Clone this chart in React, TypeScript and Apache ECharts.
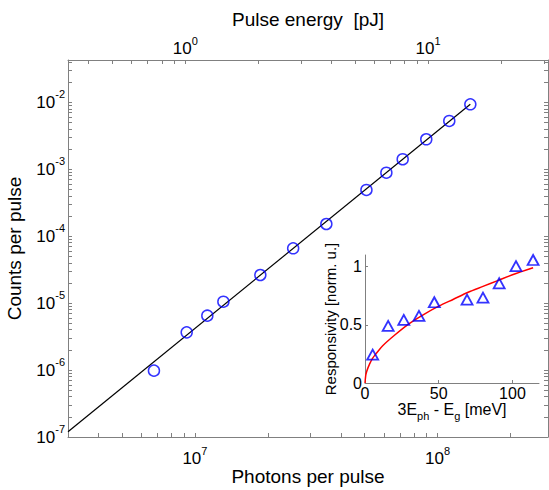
import { useEffect, useRef } from 'react';
import * as echarts from 'echarts';

// ---- main panel data ----
const photons = [6.78e6, 9.25e6, 1.125e7, 1.31e7, 1.86e7, 2.54e7, 3.48e7, 5.09e7, 6.15e7, 7.18e7, 8.98e7, 1.117e8, 1.364e8];
const counts = [9.8e-7, 3.66e-6, 6.49e-6, 1.05e-5, 2.63e-5, 6.59e-5, 1.52e-4, 4.9e-4, 8.87e-4, 1.41e-3, 2.8e-3, 5.26e-3, 9.33e-3];
const fitPhotons = [3e6, 1.364e8];
const fitCounts = [1.2e-7, 9.35e-3];

// axis ranges / ticks
const photonRange = [3e6, 2.85e8];
const energyRange = [0.3286, 31.2];
const countRange = [1e-7, 4.28e-2];
const photonMajor = [1e7, 1e8];
const photonTicks = [3e6, 4e6, 5e6, 6e6, 7e6, 8e6, 9e6, 1e7, 2e7, 3e7, 4e7, 5e7, 6e7, 7e7, 8e7, 9e7, 1e8, 2e8];
const energyMajor = [1, 10];
const energyTicks = [0.4, 0.5, 0.6, 0.7, 0.8, 0.9, 1, 2, 3, 4, 5, 6, 7, 8, 9, 10, 20, 30];
const countMajor = [1e-7, 1e-6, 1e-5, 1e-4, 1e-3, 1e-2];
const countTicks = [
  1e-7, 2e-7, 3e-7, 4e-7, 5e-7, 6e-7, 7e-7, 8e-7, 9e-7,
  1e-6, 2e-6, 3e-6, 4e-6, 5e-6, 6e-6, 7e-6, 8e-6, 9e-6,
  1e-5, 2e-5, 3e-5, 4e-5, 5e-5, 6e-5, 7e-5, 8e-5, 9e-5,
  1e-4, 2e-4, 3e-4, 4e-4, 5e-4, 6e-4, 7e-4, 8e-4, 9e-4,
  1e-3, 2e-3, 3e-3, 4e-3, 5e-3, 6e-3, 7e-3, 8e-3, 9e-3,
  1e-2, 2e-2, 3e-2, 4e-2,
];

// ---- inset data ----
const detuning = [5.2, 15.7, 26.3, 36.6, 47, 69.2, 80, 91, 102.4, 114];
const responsivity = [0.243, 0.49, 0.543, 0.577, 0.694, 0.717, 0.734, 0.857, 1.005, 1.057];
const curveX = [0, 0.5, 1, 2, 3, 5, 8, 12, 20, 30, 40, 50, 60, 70, 80, 90, 100, 114];
const curveY = [0, 0.066, 0.093, 0.13, 0.16, 0.21, 0.26, 0.32, 0.41, 0.51, 0.59, 0.66, 0.72, 0.78, 0.83, 0.88, 0.93, 0.99];
const insetXRange = [0, 118];
const insetYRange = [0, 1.1];
const insetXTicks = [0, 50, 100];
const insetYTicks = [0, 0.5, 1];

const FONT = 'Liberation Sans, Arial, Helvetica, sans-serif';
const AXIS_GRAY = '#808080';

const powLabel = (v: number) => {
  const e = Math.round(Math.log10(v));
  return `{b|10}{s|${e}}`;
};

const richX = {
  b: { fontSize: 17, lineHeight: 22, verticalAlign: 'bottom', fontFamily: FONT, color: '#000' },
  s: { fontSize: 11, verticalAlign: 'top', fontFamily: FONT, color: '#000' },
};
const richY = {
  b: { fontSize: 17, lineHeight: 28, fontFamily: FONT, color: '#000' },
  s: { fontSize: 11, verticalAlign: 'top', fontFamily: FONT, color: '#000' },
};

const lineStyle = { color: AXIS_GRAY, width: 1 };

export default function App() {
  const ref = useRef<HTMLDivElement>(null);
  useEffect(() => {
    if (!ref.current) return;
    const chart = echarts.init(ref.current, null, { renderer: 'svg' });
    const option: any = {
      animation: false,
      backgroundColor: '#fff',
      textStyle: { fontFamily: FONT },
      grid: [
        { left: 68, top: 60, width: 480, height: 377, containLabel: false, outerBoundsMode: 'none' },
        { left: 365, top: 255, width: 174, height: 128, containLabel: false, outerBoundsMode: 'none' },
      ],
      xAxis: [
        {
          gridIndex: 0, type: 'log', logBase: 10, position: 'bottom',
          min: photonRange[0], max: photonRange[1],
          axisLine: { show: true, lineStyle },
          axisTick: { show: true, inside: true, length: 4, lineStyle, customValues: photonTicks },
          axisLabel: { customValues: photonMajor, formatter: powLabel, rich: richX, margin: 8 },
          splitLine: { show: false },
          name: 'Photons per pulse', nameLocation: 'middle', nameGap: 30, nameMoveOverlap: false,
          nameTextStyle: { fontSize: 19, color: '#000', fontFamily: FONT },
        },
        {
          gridIndex: 0, type: 'log', logBase: 10, position: 'top',
          min: energyRange[0], max: energyRange[1],
          axisLine: { show: true, lineStyle },
          axisTick: { show: true, inside: true, length: 4, lineStyle, customValues: energyTicks },
          axisLabel: { customValues: energyMajor, formatter: powLabel, rich: richX, margin: 3 },
          splitLine: { show: false },
          name: 'Pulse energy  [pJ]', nameLocation: 'middle', nameGap: 31, nameMoveOverlap: false,
          nameTextStyle: { fontSize: 19, color: '#000', fontFamily: FONT },
        },
        {
          gridIndex: 1, type: 'value', position: 'bottom',
          min: insetXRange[0], max: insetXRange[1],
          axisLine: { show: true, lineStyle },
          axisTick: { show: true, inside: true, length: 3, lineStyle, customValues: insetXTicks },
          axisLabel: { customValues: insetXTicks, fontSize: 16, color: '#000', margin: 2, fontFamily: FONT },
          splitLine: { show: false },
          name: '{n|3E}{s|ph}{n| - E}{s|g}{n| [meV]}', nameLocation: 'middle', nameGap: 14, nameMoveOverlap: false,
          nameTextStyle: {
            rich: {
              n: { fontSize: 16, lineHeight: 24, color: '#000', fontFamily: FONT },
              s: { fontSize: 11, verticalAlign: 'bottom', color: '#000', fontFamily: FONT },
            },
          },
        },
      ],
      yAxis: [
        {
          gridIndex: 0, type: 'log', logBase: 10, position: 'left',
          min: countRange[0], max: countRange[1],
          axisLine: { show: true, lineStyle },
          axisTick: { show: true, inside: true, length: 4, lineStyle, customValues: countTicks },
          axisLabel: { customValues: countMajor, formatter: powLabel, rich: richY, margin: 3 },
          splitLine: { show: false },
          name: 'Counts per pulse', nameLocation: 'middle', nameGap: 44, nameMoveOverlap: false,
          nameTextStyle: { fontSize: 19, color: '#000', fontFamily: FONT },
        },
        {
          gridIndex: 0, type: 'log', logBase: 10, position: 'right',
          min: countRange[0], max: countRange[1],
          axisLine: { show: true, lineStyle },
          axisTick: { show: true, inside: true, length: 4, lineStyle, customValues: countTicks },
          axisLabel: { show: false },
          splitLine: { show: false },
        },
        {
          gridIndex: 1, type: 'value', position: 'left',
          min: insetYRange[0], max: insetYRange[1],
          axisLine: { show: true, lineStyle },
          axisTick: { show: true, inside: true, length: 3, lineStyle, customValues: insetYTicks },
          axisLabel: { customValues: insetYTicks, fontSize: 16, color: '#000', margin: 3, fontFamily: FONT },
          splitLine: { show: false },
          name: 'Responsivity [norm. u.]', nameLocation: 'middle', nameGap: 27, nameMoveOverlap: false,
          nameTextStyle: { fontSize: 15, color: '#000', fontFamily: FONT },
        },
      ],
      series: [
        {
          type: 'line', xAxisIndex: 0, yAxisIndex: 0,
          data: fitPhotons.map((x, i) => [x, fitCounts[i]]),
          symbol: 'none', lineStyle: { color: '#000', width: 1.2 }, z: 2,
        },
        {
          type: 'scatter', xAxisIndex: 0, yAxisIndex: 0,
          data: photons.map((x, i) => [x, counts[i]]),
          symbol: 'circle', symbolSize: 11,
          itemStyle: { color: 'rgba(0,0,0,0)', borderColor: '#0000ff', borderWidth: 1.5 }, z: 3,
        },
        {
          type: 'line', xAxisIndex: 2, yAxisIndex: 2,
          data: curveX.map((x, i) => [x, curveY[i]]),
          symbol: 'none', smooth: 0.3, lineStyle: { color: '#ff0000', width: 1.5 }, z: 2,
        },
        {
          type: 'scatter', xAxisIndex: 2, yAxisIndex: 2,
          data: detuning.map((x, i) => [x, responsivity[i]]),
          symbol: 'triangle', symbolSize: [11, 10],
          itemStyle: { color: 'rgba(0,0,0,0)', borderColor: '#0000ff', borderWidth: 1.8 }, z: 3,
        },
      ],
    };
    chart.setOption(option);
    return () => chart.dispose();
  }, []);
  return (
    <div
      ref={ref}
      style={{ position: 'absolute', left: 0, top: 0, width: 549, height: 490, background: '#fff' }}
    />
  );
}
